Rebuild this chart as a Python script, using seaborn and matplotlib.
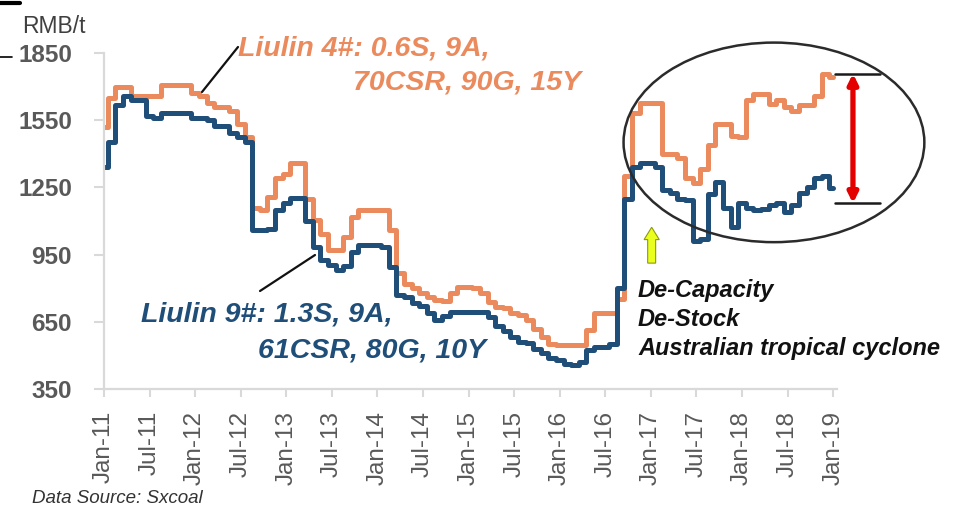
import numpy as np
import pandas as pd
import matplotlib
matplotlib.use("Agg")
import matplotlib.pyplot as plt
import seaborn as sns
from matplotlib.patches import Ellipse, FancyArrow
from matplotlib.lines import Line2D

# Monthly ex-works prices, RMB/t, Jan-2011 .. Jan-2019
liulin4 = [1520, 1650, 1700, 1700, 1660, 1660, 1660, 1660, 1705, 1705, 1705, 1705,
           1673, 1660, 1629, 1607, 1607, 1593, 1535, 1473, 1160, 1148, 1205, 1290,
           1312, 1361, 1361, 1200, 1103, 1040, 970, 969, 1030, 1116, 1148, 1148,
           1148, 1148, 1058, 867, 820, 800, 778, 760, 747, 745, 780, 804,
           804, 800, 780, 740, 715, 710, 689, 680, 657, 620, 580, 550,
           546, 546, 546, 546, 613, 689, 689, 689, 750, 1300, 1580, 1629,
           1629, 1629, 1401, 1401, 1380, 1290, 1268, 1330, 1440, 1535, 1535, 1480,
           1473, 1640, 1669, 1669, 1624, 1638, 1607, 1590, 1616, 1616, 1660, 1758,
           1745]
liulin9 = [1340, 1451, 1620, 1660, 1640, 1638, 1570, 1562, 1584, 1584, 1584, 1584,
           1558, 1558, 1549, 1526, 1526, 1495, 1473, 1451, 1060, 1058, 1065, 1150,
           1179, 1201, 1201, 1100, 983, 925, 905, 880, 900, 960, 992, 992,
           992, 985, 894, 770, 760, 733, 720, 690, 657, 675, 693, 693,
           693, 693, 693, 670, 630, 610, 582, 560, 555, 530, 510, 490,
           479, 460, 457, 470, 524, 537, 537, 550, 800, 1200, 1340, 1357,
           1357, 1339, 1240, 1223, 1200, 1192, 1010, 1020, 1220, 1272, 1160, 1072,
           1179, 1160, 1148, 1155, 1170, 1179, 1140, 1170, 1223, 1250, 1290, 1300,
           1246]
tick_labels = ["Jan-11", "Jul-11", "Jan-12", "Jul-12", "Jan-13", "Jul-13",
               "Jan-14", "Jul-14", "Jan-15", "Jul-15", "Jan-16", "Jul-16",
               "Jan-17", "Jul-17", "Jan-18", "Jul-18", "Jan-19"]
y_ticks = [350, 650, 950, 1250, 1550, 1850]
spread_high = 1758
spread_low = 1179

ORANGE = "#EB8A5C"
BLUE = "#1F4E79"
GRAY = "#595959"

n = len(liulin4)
df = pd.DataFrame({
    "month": list(range(n)) * 2,
    "price": liulin4 + liulin9,
    "coal": ["Liulin 4#"] * n + ["Liulin 9#"] * n,
})

sns.set_style("white")
plt.rcParams["font.family"] = ["Liberation Sans", "DejaVu Sans"]

W, H = 956, 507
fig = plt.figure(figsize=(W / 100, H / 100), dpi=100)
ax = fig.add_axes([104 / W, 1 - 389 / H, 733 / W, 336 / H])

sns.lineplot(data=df, x="month", y="price", hue="coal",
             palette={"Liulin 4#": ORANGE, "Liulin 9#": BLUE},
             drawstyle="steps-mid", linewidth=3.6, legend=False,
             errorbar=None, ax=ax)

ax.set_xlim(0, 96.5)
ax.set_ylim(350, 1850)
ax.set_xlabel("")
ax.set_ylabel("")
ax.set_xticks(np.arange(0, 97, 6))
ax.set_xticklabels(tick_labels, rotation=90, fontsize=17.5, color=GRAY)
ax.set_yticks(y_ticks)
ax.set_yticklabels([str(v) for v in y_ticks], fontsize=17.5,
                   fontweight="bold", color=GRAY)
ax.tick_params(axis="x", direction="out", length=6, width=1.5,
               color="#D9D9D9", pad=10, bottom=True)
ax.tick_params(axis="y", direction="out", length=7, width=1.5,
               color="#D9D9D9", pad=16, left=True)
for side in ("top", "right"):
    ax.spines[side].set_visible(False)
for side in ("left", "bottom"):
    ax.spines[side].set_color("#D9D9D9")
    ax.spines[side].set_linewidth(1.6)

def fx(px):
    return px / W

def fy(py):
    return 1 - py / H

fig.text(fx(22), fy(33), "RMB/t", fontsize=16.5, color="#404040", va="baseline")

# series captions
cap = dict(fontsize=20.5, fontweight="bold", style="italic", va="baseline")
fig.text(fx(238), fy(55), "Liulin 4#: 0.6S, 9A,", color=ORANGE, **cap)
fig.text(fx(353), fy(89), "70CSR, 90G, 15Y", color=ORANGE, **cap)
fig.text(fx(141), fy(322), "Liulin 9#: 1.3S, 9A,", color=BLUE, **cap)
fig.text(fx(258), fy(357), "61CSR, 80G, 10Y", color=BLUE, **cap)

# leader lines from captions to series
fig.add_artist(Line2D([fx(238), fx(202)], [fy(47), fy(92)], color="#111111", lw=1.6))
fig.add_artist(Line2D([fx(260), fx(315)], [fy(291), fy(255)], color="#111111", lw=1.6))

# drivers of the 2016 rally
drv = dict(fontsize=17, fontweight="bold", style="italic", color="#111111", va="baseline")
fig.text(fx(638), fy(297), "De-Capacity", **drv)
fig.text(fx(638), fy(326), "De-Stock", **drv)
fig.text(fx(638), fy(355), "Australian tropical cyclone", **drv)

# yellow arrow pointing at the rally
ax.add_patch(FancyArrow(72.1, 912, 0, 160, width=1.05, head_width=2.0,
                        head_length=55, length_includes_head=True,
                        facecolor="#EAFF1E", edgecolor="#8C9A10", lw=0.8,
                        clip_on=False, zorder=5))

# ellipse highlighting the widened spread
ax.add_patch(Ellipse((88.2, 1451), 39.6, 891, fill=False, edgecolor="#2B2B2B",
                     lw=1.8, clip_on=False, zorder=4))

# spread marker
ax.plot([96.2, 102.1], [spread_high, spread_high], color="#1A1A1A", lw=1.8, clip_on=False)
ax.plot([96.2, 102.1], [spread_low, spread_low], color="#1A1A1A", lw=1.8, clip_on=False)
ax.annotate("", xy=(98.6, spread_high), xytext=(98.6, spread_low),
            arrowprops=dict(arrowstyle="<|-|>", color="#E50000", lw=3.8,
                            mutation_scale=14, shrinkA=0, shrinkB=0),
            annotation_clip=False)

fig.text(fx(32), fy(503), "Data Source: Sxcoal", fontsize=13.5, style="italic",
         color="#333333", va="baseline")

# page-edge marks
fig.add_artist(Line2D([0, fx(20)], [fy(3), fy(3)], color="black", lw=3))
fig.add_artist(Line2D([0, fx(12)], [fy(57), fy(57)], color="black", lw=1.2))

fig.savefig("out.png", dpi=100)
